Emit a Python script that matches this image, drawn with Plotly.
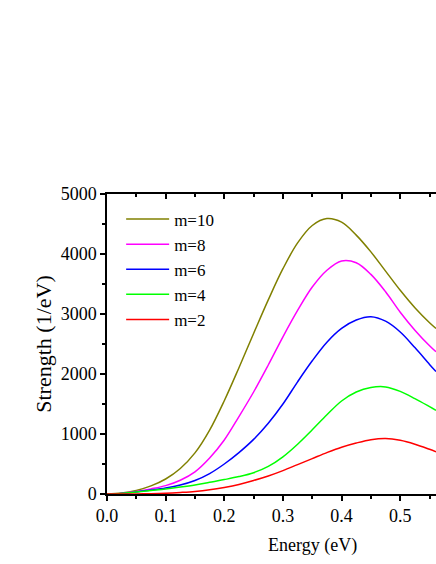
import plotly.graph_objects as go

# Energy grid (eV) and strength values (1/eV)
energy = [0, 0.025, 0.05, 0.075, 0.1, 0.125, 0.15, 0.175, 0.2, 0.225, 0.25,
          0.275, 0.3, 0.325, 0.35, 0.375, 0.4, 0.425, 0.45, 0.475, 0.5,
          0.525, 0.55, 0.561]

m10 = [0, 15, 60, 135, 250, 425, 685, 1065, 1555, 2105, 2675, 3235, 3755,
       4185, 4475, 4590, 4530, 4315, 4035, 3715, 3395, 3105, 2855, 2760]
m8 = [0, 10, 40, 85, 140, 230, 370, 600, 900, 1290, 1700, 2150, 2620, 3060,
      3450, 3730, 3885, 3855, 3660, 3370, 3030, 2730, 2470, 2370]
m6 = [0, 8, 35, 65, 100, 150, 225, 340, 500, 690, 910, 1180, 1500, 1870,
      2220, 2530, 2760, 2900, 2955, 2880, 2700, 2440, 2160, 2040]
m4 = [0, 10, 35, 60, 85, 115, 150, 195, 240, 290, 355, 460, 620, 830, 1070,
      1320, 1550, 1700, 1775, 1785, 1710, 1590, 1456, 1395]
m2 = [0, 0, 2, 5, 12, 25, 42, 70, 110, 160, 225, 300, 390, 490, 590, 690,
      780, 850, 905, 925, 895, 830, 745, 705]

series = [("m=10", m10, "#808000"),
          ("m=8", m8, "#ff00ff"),
          ("m=6", m6, "#0000ff"),
          ("m=4", m4, "#00ff00"),
          ("m=2", m2, "#ff0000")]

fig = go.Figure()
for name, values, color in series:
    fig.add_trace(go.Scatter(x=energy, y=values, name=name, mode="lines",
                             line=dict(color=color, width=1.5, shape="spline")))

# dummy invisible trace so the top axis is drawn
fig.add_trace(go.Scatter(x=[0], y=[0], xaxis="x2", mode="markers",
                         marker=dict(opacity=0), showlegend=False,
                         hoverinfo="skip"))

serif = "Liberation Serif, Times New Roman, serif"
axis_font = dict(family=serif, size=18, color="black")

fig.update_layout(
    width=436, height=564,
    margin=dict(l=107, r=0, t=194, b=70),
    paper_bgcolor="white", plot_bgcolor="white",
    font=axis_font,
    showlegend=True,
    legend=dict(x=0.043, y=0.975, xanchor="left", yanchor="top",
                bgcolor="rgba(0,0,0,0)", itemwidth=43,
                font=dict(family=serif, size=17, color="black")),
    xaxis=dict(range=[0, 0.561], dtick=0.1, tickformat=".1f",
               showline=True, linecolor="black", linewidth=1.5,
               ticks="outside", ticklen=5, tickwidth=1.5, tickcolor="black",
               minor=dict(ticks="outside", ticklen=3, dtick=0.05,
                          tickcolor="black", tickwidth=1.5),
               showgrid=False, zeroline=False),
    xaxis2=dict(range=[0, 0.561], overlaying="x", side="top", dtick=0.1,
                showticklabels=False,
                showline=True, linecolor="black", linewidth=1.5,
                ticks="inside", ticklen=5, tickwidth=1.5, tickcolor="black",
                minor=dict(ticks="inside", ticklen=3, dtick=0.05,
                           tickcolor="black", tickwidth=1.5),
                showgrid=False, zeroline=False),
    yaxis=dict(range=[0, 5000], dtick=1000,
               title=dict(text="Strength (1/eV)", standoff=3),
               showline=True, linecolor="black", linewidth=1.5,
               ticks="outside", ticklen=5, tickwidth=1.5, tickcolor="black",
               minor=dict(ticks="outside", ticklen=3, dtick=500,
                          tickcolor="black", tickwidth=1.5),
               showgrid=False, zeroline=False),
    annotations=[dict(text="Energy (eV)", xref="paper", yref="paper",
                      x=(312 - 107) / 329, y=-0.17, xanchor="center",
                      yanchor="middle", showarrow=False, font=axis_font)],
)

# drop the default body margin so the figure fills the window exactly
fig.write_html("out.html", config={"displayModeBar": False},
               post_script="document.body.style.margin = '0';")
